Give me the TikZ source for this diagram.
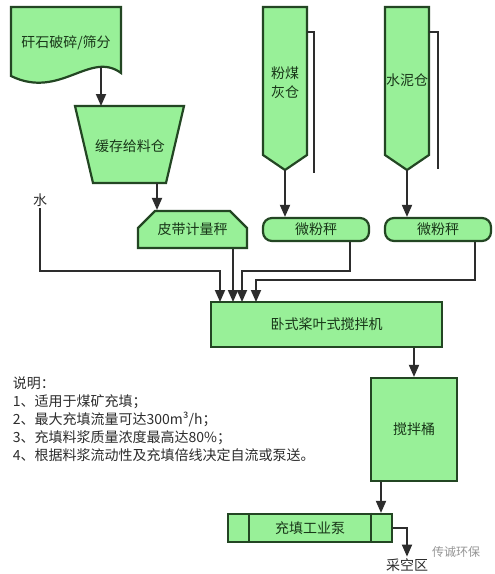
\documentclass[tikz,border=0pt]{standalone}
\usepackage{fontspec}
\setmainfont{Noto Sans CJK SC}
\usetikzlibrary{arrows.meta,calc,shapes.misc}
\definecolor{ink}{RGB}{45,45,45}
\definecolor{leaf}{RGB}{152,240,152}
\definecolor{leafdark}{RGB}{35,70,35}
\definecolor{leaftext}{RGB}{25,55,25}
\definecolor{soft}{RGB}{150,150,150}
\tikzset{
  every picture/.style={color=ink, line width=1.8pt, font=\fontsize{14}{16}\selectfont},
  box/.style={draw=leafdark, fill=leaf, line width=2.2pt, text=leaftext, inner sep=2pt, align=center},
  weigher/.style={box, rounded corners=9pt, minimum width=106pt, minimum height=23pt},
  flow/.style={-{Triangle[length=12pt,width=10pt]}, line width=1.8pt, color=ink},
  rail/.style={line width=1.8pt, color=ink},
  lbl/.style={text=leaftext, inner sep=1pt, align=center},
  note/.style={text=ink, align=left, inner sep=0pt, font=\fontsize{14}{18}\selectfont},
  wmark/.style={text=soft, inner sep=1pt, font=\fontsize{12}{14}\selectfont},
}

\begin{document}
\begin{tikzpicture}[x=1pt, y=-1pt]
  \useasboundingbox[fill=white] (0,0) rectangle (495,574);
  % feed side: crushing, buffer bin and the two silos
  \draw[box] (11,7) -- (121,7) -- (121,73) .. controls (90,50) and (60,100) .. (11,76) -- cycle;
  \node[lbl] (crush) at (66,43) {矸石破碎/筛分};
  \coordinate (crushout) at (101,67);
  \draw[box] (75,106) -- (184,106) -- (166,183) -- (93,183) -- cycle;
  \node[lbl] (bin) at (130,146) {缓存给料仓};
  \coordinate (binin) at (101,106);
  \coordinate (binout) at (157,183);
  \draw[box] (263,7) -- (307,7) -- (307,155) -- (285,170) -- (263,155) -- cycle;
  \draw[rail] (307,32) -- (314,32) -- (314,173);
  \node[lbl, font=\fontsize{14}{19}\selectfont] (ash) at (285,83) {粉煤\\灰仓};
  \coordinate (ashout) at (285,170);
  \draw[box] (385,7) -- (429,7) -- (429,155) -- (407,170) -- (385,155) -- cycle;
  \draw[rail] (429,32) -- (438,32) -- (438,169);
  \node[lbl, inner sep=0pt] (cement) at (407,80) {水泥仓};
  \coordinate (cementout) at (407,170);
  % weighing
  \node[box, chamfered rectangle, chamfered rectangle corners={north west,north east},
        chamfered rectangle xsep=7pt, chamfered rectangle ysep=10pt,
        minimum width=109pt, minimum height=23pt] (belt) at (192.5,229.5) {皮带计量秤};
  \node[weigher] (w1) at (316,229.5) {微粉秤};
  \node[weigher] (w2) at (438,229.5) {微粉秤};
  \node[text=ink, inner sep=1pt] (water) at (40,200) {水};
  % mixing and pumping
  \node[box, minimum width=231pt, minimum height=45pt] (mixer) at (326.5,324.5) {卧式桨叶式搅拌机};
  \node[box, minimum width=86pt, minimum height=103pt] (tank) at (414,429.5) {搅拌桶};
  \node[box, minimum width=164pt, minimum height=28pt] (pump) at (310,528) {充填工业泵};
  \draw[box] ($(pump.north west)+(22,0)$) -- ($(pump.south west)+(22,0)$);
  \draw[box] ($(pump.north east)+(-22,0)$) -- ($(pump.south east)+(-22,0)$);
  \node[text=ink, inner sep=1pt] (goaf) at (407,565) {采空区};
  \coordinate (m1) at (220,302);
  \coordinate (m2) at (233,302);
  \coordinate (m3) at (242,302);
  \coordinate (m4) at (256,302);
  \draw[flow] (crushout) -- (binin);
  \draw[flow] (binout) -- (binout |- belt.north);
  \draw[flow] (ashout) -- (ashout |- w1.north);
  \draw[flow] (cementout) -- (cementout |- w2.north);
  \draw[flow] (water.south) |- ($(m1)+(0,-31)$) -- (m1);
  \draw[flow] (m2 |- belt.south) -- (m2);
  \draw[flow] ([xshift=34pt]w1.south) |- ($(m3)+(0,-31)$) -- (m3);
  \draw[flow] ([xshift=37pt]w2.south) |- ($(m4)+(0,-22)$) -- (m4);
  \draw[flow] (tank.north |- mixer.south) -- (tank.north);
  \draw[flow] ([xshift=-33pt]tank.south) -- ([xshift=-33pt]tank.south |- pump.north);
  \draw[flow] (pump.east) -| (goaf.north);
  \node[note, anchor=north west] (notes) at (12,376) {说明：\\1、适用于煤矿充填；\\2、最大充填流量可达300m³/h；\\3、充填料浆质量浓度最高达80\%；\\4、根据料浆流动性及充填倍线决定自流或泵送。};
  \node[wmark] (brand) at (456,552) {传诚环保};
\end{tikzpicture}
\end{document}
